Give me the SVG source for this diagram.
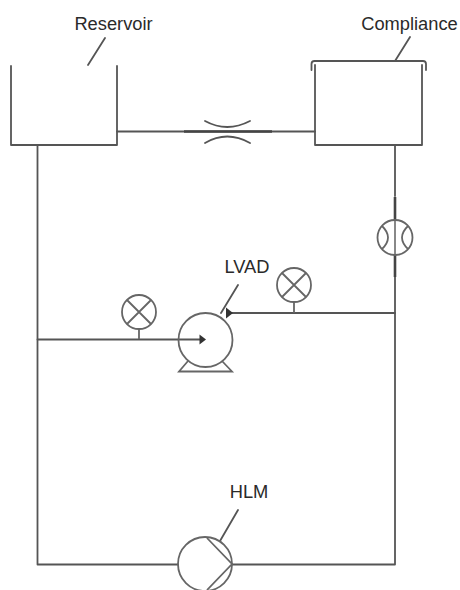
<svg xmlns="http://www.w3.org/2000/svg" width="460" height="590" viewBox="0 0 460 590">
<style>
.l{fill:none;stroke:#555;stroke-width:1.8;stroke-linecap:round;stroke-linejoin:round}
.t{fill:none;stroke:#444;stroke-width:2.600}
.g{fill:none;stroke:#666;stroke-width:1.800}
.f{fill:none;stroke:#888;stroke-width:2}
.a{fill:#333;stroke:none}
text{font-family:"Liberation Sans",Arial,sans-serif;font-size:18.300px;fill:#2a2a2a;text-anchor:middle}
</style>
<rect width="460" height="590" fill="#fff"/>
<g id="connectors">
<path class="l" d="M37.500 145V564.500H178M232 564.500H395M395 145V196M395 277V564.500"/>
<path class="l" d="M117 131.500H315"/>
<path class="t" d="M184 131.500H272"/>
<path class="l" d="M37.500 339.500H200"/>
<path class="l" d="M229 313H395"/>
<path class="t" d="M395 197V220M395 254V277"/>
<path class="f" d="M395 220V255"/>
<path class="a" d="M199.500 334.500L206 339.500L199.500 344.500Z"/>
<path class="a" d="M226 307.500L233 313L226 318.500Z"/>
<path class="l" d="M105 38L88 65M410 37L395 61M238 285L221 313M238 510L220 541"/>
</g>
<g id="reservoir"><path class="l" d="M11 66V145H117V66"/><text x="113.500" y="30">Reservoir</text></g>
<g id="compliance"><path class="l" d="M315 65V145H422V65"/><path class="l" d="M311.500 70V64Q311.500 61 314.500 61H423Q426 61 426 64V70"/><text x="409.500" y="30">Compliance</text></g>
<g id="restrictor"><path class="l" d="M205 121Q227 133 250 121M205 143Q227 130 250 143"/></g>
<g id="flowmeter"><circle class="g" cx="395" cy="237.500" r="17.500"/><path class="g" d="M382 226Q394 237.500 382 249M408 226Q396 237.500 408 249"/></g>
<g id="gauge-left"><circle class="g" cx="139" cy="312" r="17"/><path class="g" d="M127 300L151 324M151 300L127 324M139 329V339"/></g>
<g id="gauge-right"><circle class="g" cx="294" cy="285" r="17"/><path class="g" d="M282 273L306 297M306 273L282 297M294 302V313"/></g>
<g id="lvad"><circle class="g" cx="205.500" cy="340" r="27"/><path class="g" d="M188 361L179 371.500H232L222 361"/><text x="247" y="273">LVAD</text></g>
<g id="hlm"><circle class="g" cx="205" cy="564" r="27"/><path class="g" d="M207 538L232 564L207 590"/><text x="249" y="498">HLM</text></g>
</svg>
